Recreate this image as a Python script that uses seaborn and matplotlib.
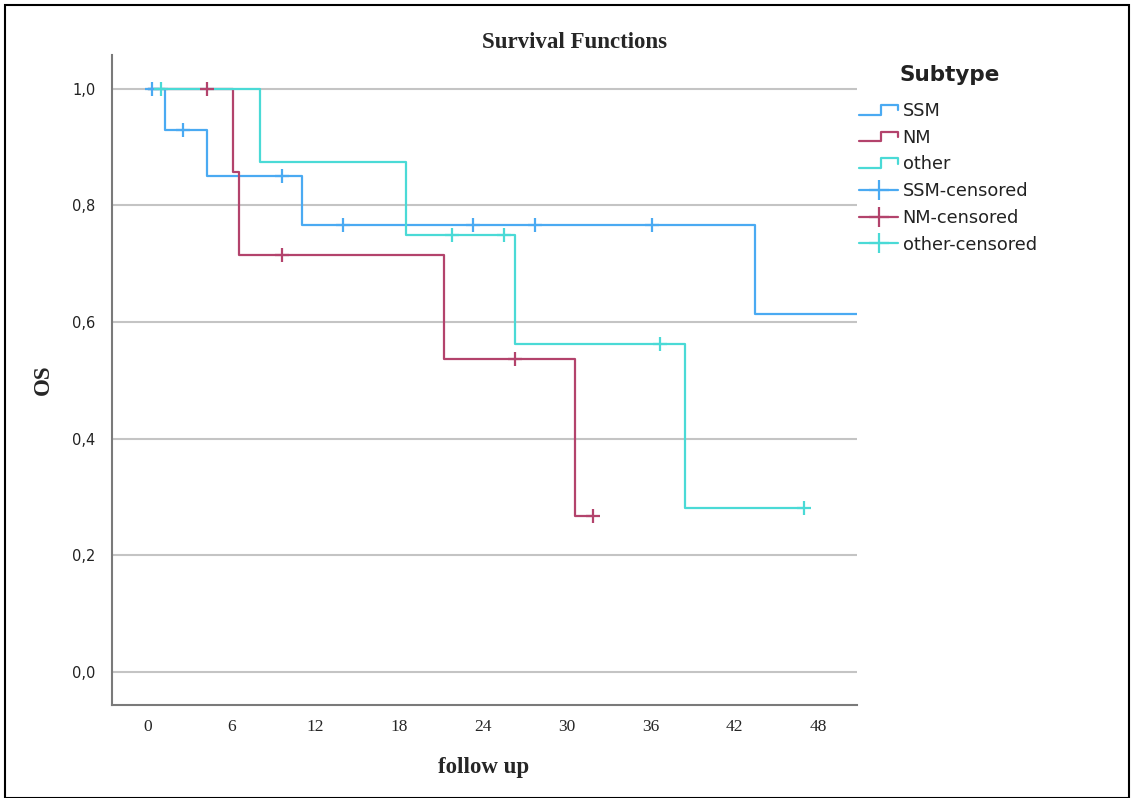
import numpy as np
import pandas as pd
import matplotlib
matplotlib.use("Agg")
import matplotlib.pyplot as plt
import seaborn as sns
from matplotlib.lines import Line2D
from matplotlib.legend_handler import HandlerBase
from matplotlib.patches import Rectangle

# ---- data ----
groups = ["SSM", "NM", "other"]
colors = {"SSM": "#4AAAF2", "NM": "#B3436C", "other": "#4ADAD6"}

ssm_time = [0.0, 1.2, 4.2, 11.0, 43.5, 52.0]
ssm_surv = [1.0, 0.930, 0.851, 0.767, 0.614, 0.614]
nm_time = [0.0, 6.1, 6.5, 21.2, 30.6, 31.9]
nm_surv = [1.0, 0.857, 0.715, 0.536, 0.268, 0.268]
other_time = [0.0, 8.0, 18.5, 26.3, 38.5, 47.0]
other_surv = [1.0, 0.875, 0.750, 0.563, 0.281, 0.281]

ssm_cens_time = [0.3, 2.5, 9.6, 14.0, 23.3, 27.7, 36.1]
ssm_cens_surv = [1.0, 0.930, 0.851, 0.767, 0.767, 0.767, 0.767]
nm_cens_time = [4.2, 9.6, 26.3, 31.9]
nm_cens_surv = [1.0, 0.715, 0.536, 0.268]
other_cens_time = [0.9, 21.8, 25.5, 36.7, 47.0]
other_cens_surv = [1.0, 0.750, 0.750, 0.563, 0.281]

x_ticks = [0, 6, 12, 18, 24, 30, 36, 42, 48]
y_ticks = [0.0, 0.2, 0.4, 0.6, 0.8, 1.0]
y_ticklabels = ["0,0", "0,2", "0,4", "0,6", "0,8", "1,0"]

curves = pd.concat([
    pd.DataFrame({"t": ssm_time, "S": ssm_surv, "Subtype": "SSM"}),
    pd.DataFrame({"t": nm_time, "S": nm_surv, "Subtype": "NM"}),
    pd.DataFrame({"t": other_time, "S": other_surv, "Subtype": "other"}),
], ignore_index=True)
cens = pd.concat([
    pd.DataFrame({"t": ssm_cens_time, "S": ssm_cens_surv, "Subtype": "SSM"}),
    pd.DataFrame({"t": nm_cens_time, "S": nm_cens_surv, "Subtype": "NM"}),
    pd.DataFrame({"t": other_cens_time, "S": other_cens_surv, "Subtype": "other"}),
], ignore_index=True)

sns.set_theme(style="white")
plt.rcParams["font.family"] = ["DejaVu Sans"]

W, H = 1134, 798
fig = plt.figure(figsize=(W / 100, H / 100), dpi=100)
ax = fig.add_axes([112 / W, 1 - 705 / H, (857 - 112) / W, (705 - 55) / H])

for g in groups:
    d = curves[curves["Subtype"] == g]
    sns.lineplot(data=d, x="t", y="S", ax=ax, estimator=None, sort=False,
                 drawstyle="steps-post", color=colors[g], linewidth=1.6,
                 legend=False, zorder=3)
    c = cens[cens["Subtype"] == g]
    sns.scatterplot(data=c, x="t", y="S", ax=ax, marker="+", s=90,
                    color=colors[g], linewidth=1.6, legend=False, zorder=4)

ax.set_xlim(-2.58, 50.8)
ax.set_ylim(-0.057, 1.058)
ax.set_yticks(y_ticks)
ax.set_yticklabels(y_ticklabels)
ax.set_xticks(x_ticks)
ax.set_xticklabels([str(v) for v in x_ticks])
ax.grid(False)
for yv in y_ticks:
    ax.axhline(yv, color="#c4c4c4", linewidth=1.5, zorder=1)
ax.tick_params(axis="both", length=0)
ax.tick_params(axis="y", pad=12, labelsize=10.5, colors="#222222")
ax.tick_params(axis="x", pad=10, labelsize=12.5)
for lab in ax.get_xticklabels():
    lab.set_family("Liberation Serif")
for s in ["top", "right"]:
    ax.spines[s].set_visible(False)
for s in ["left", "bottom"]:
    ax.spines[s].set_color("#7a7a7a")
    ax.spines[s].set_linewidth(1.5)
ax.set_xlabel("")
ax.set_ylabel("")

fig.text(574 / W, 1 - 42 / H, "Survival Functions", ha="center", va="center",
         family="Liberation Serif", fontweight="bold", fontsize=16.5)
fig.text(484 / W, 1 - 767 / H, "follow up", ha="center", va="center",
         family="Liberation Serif", fontweight="bold", fontsize=16.5)
fig.text(43 / W, 1 - 380 / H, "OS", ha="center", va="center", rotation=90,
         family="Liberation Serif", fontweight="bold", fontsize=16.5)


class StepHandler(HandlerBase):
    def create_artists(self, legend, orig_handle, xdescent, ydescent, width,
                       height, fontsize, trans):
        x0, x1 = -xdescent, -xdescent + width
        ylo, yhi = -ydescent + 0.1 * height, -ydescent + 0.9 * height
        xm = x0 + 0.55 * width
        xs = [x0, xm, xm, x1, x1]
        ys = [ylo, ylo, yhi, yhi, ylo + 0.35 * height]
        ln = Line2D(xs, ys, color=orig_handle.get_color(), linewidth=1.6,
                    transform=trans)
        return [ln]


handles, labels, hmap = [], [], {}
for g in groups:
    h = Line2D([], [], color=colors[g])
    handles.append(h)
    labels.append(g)
    hmap[h] = StepHandler()
for g in groups:
    h = Line2D([], [], color=colors[g], marker="+", markersize=14,
               markeredgewidth=1.6, linewidth=1.6)
    handles.append(h)
    labels.append(g + "-censored")

fig.text(950 / W, 1 - 75 / H, "Subtype", ha="center", va="center",
         fontsize=15.5, fontweight="bold", color="#222222")
leg = fig.legend(handles, labels, handler_map=hmap, loc="upper left",
                 bbox_to_anchor=(843 / W, 1 - 86 / H), frameon=False,
                 fontsize=12.8, handlelength=2.2,
                 handletextpad=0.25, labelspacing=0.49)
for t in leg.get_texts():
    t.set_color("#222222")

fig.patches.append(Rectangle((5 / W, 0), 1 - 10 / W, 1 - 5 / H,
                             transform=fig.transFigure, fill=False,
                             edgecolor="black", linewidth=1.5))

fig.savefig("out.png", dpi=100)
